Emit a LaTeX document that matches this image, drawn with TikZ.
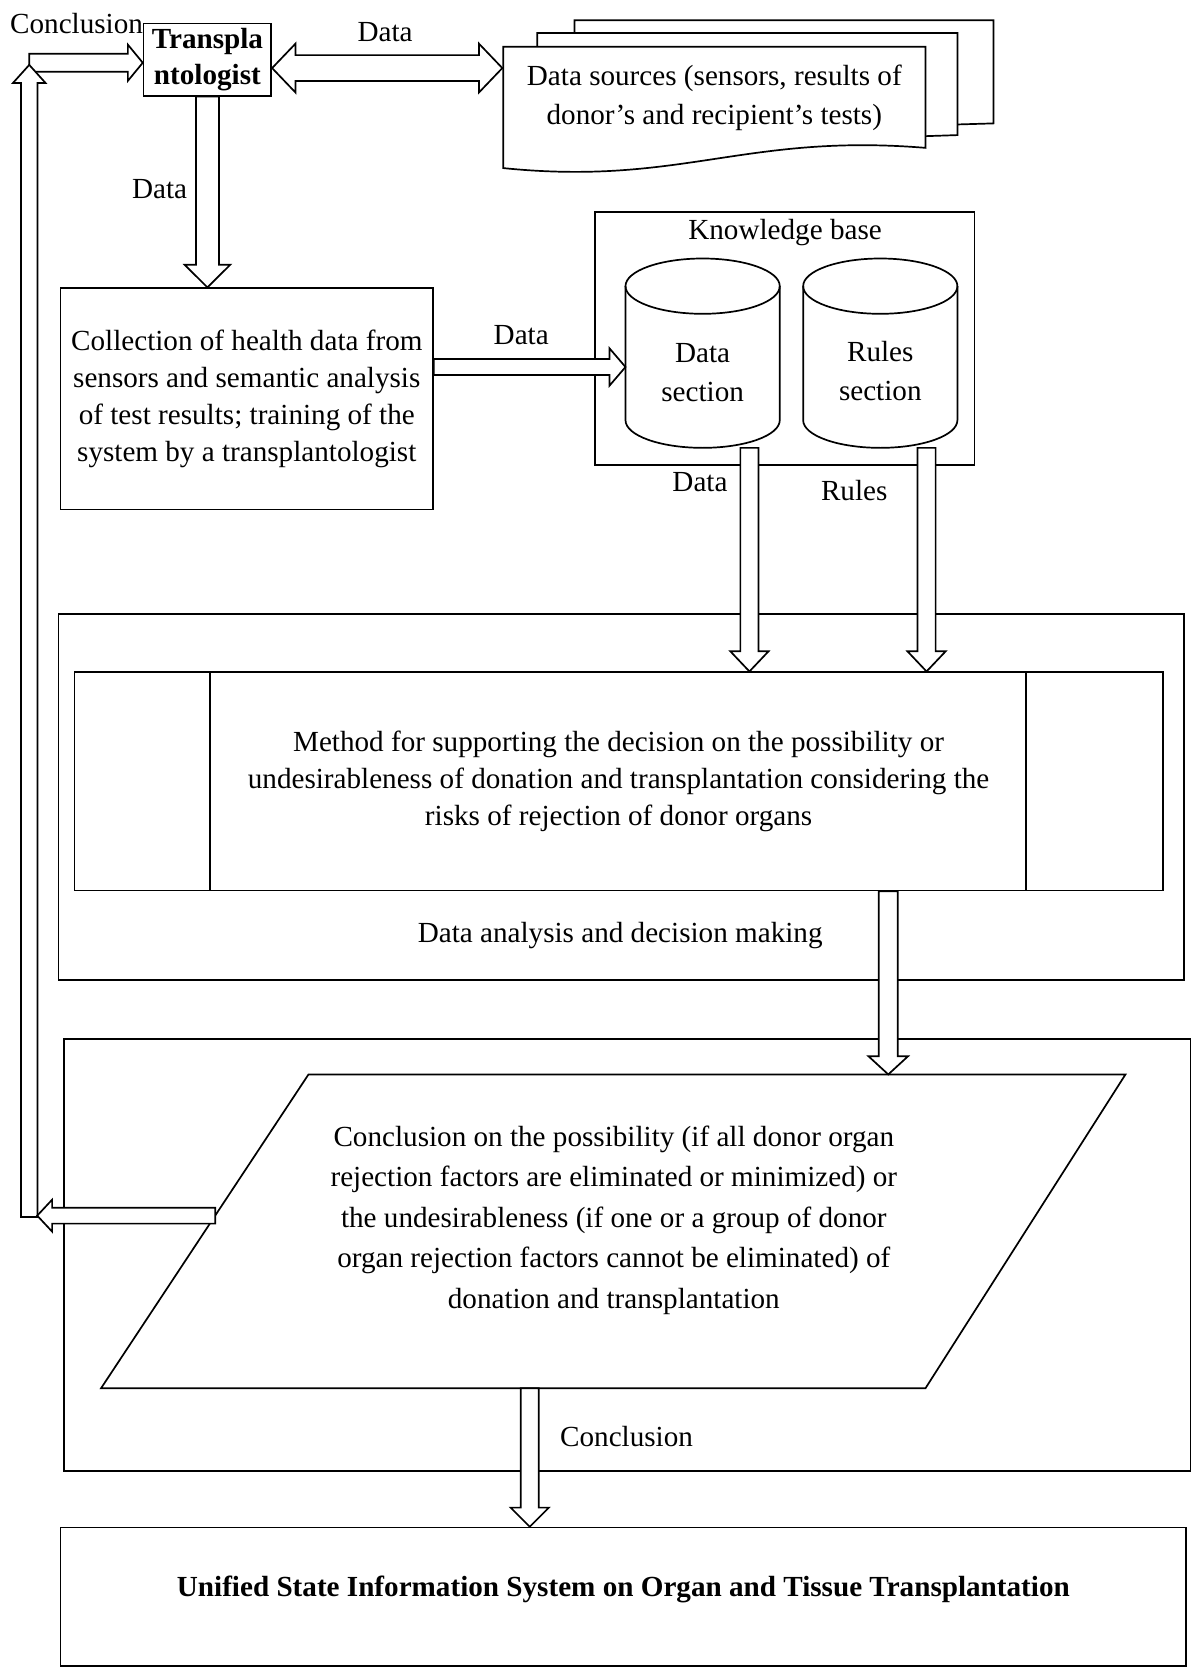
\documentclass[tikz,border=0pt]{standalone}
\usepackage{fontspec}
\setmainfont{Liberation Serif}
\usepackage{tikz}
\usetikzlibrary{calc}

\begin{document}
\begin{tikzpicture}[x=0.5pt, y=-0.5pt, line width=0.8pt,
  font=\fontsize{13.7}{17.5}\selectfont,
  box/.style={draw, fill=white, align=center, inner sep=2pt},
  lbl/.style={inner sep=1pt, align=center},
  blk/.style n args={3}{draw, fill=white, to path={
      ($(\tikztostart)!#1!90:(\tikztotarget)$)
      -- ($(\tikztotarget)!#3!(\tikztostart)!#1!-90:(\tikztostart)$)
      -- ($(\tikztotarget)!#3!(\tikztostart)!#2!-90:(\tikztostart)$)
      -- (\tikztotarget)
      -- ($(\tikztotarget)!#3!(\tikztostart)!#2!90:(\tikztostart)$)
      -- ($(\tikztotarget)!#3!(\tikztostart)!#1!90:(\tikztostart)$)
      -- ($(\tikztostart)!#1!-90:(\tikztotarget)$) -- cycle}},
  dblk/.style n args={3}{draw, fill=white, to path={
      ($(\tikztostart)!#3!(\tikztotarget)!#1!90:(\tikztotarget)$)
      -- ($(\tikztostart)!#3!(\tikztotarget)!#2!90:(\tikztotarget)$)
      -- (\tikztostart)
      -- ($(\tikztostart)!#3!(\tikztotarget)!#2!-90:(\tikztotarget)$)
      -- ($(\tikztostart)!#3!(\tikztotarget)!#1!-90:(\tikztotarget)$)
      -- ($(\tikztotarget)!#3!(\tikztostart)!#1!90:(\tikztostart)$)
      -- ($(\tikztotarget)!#3!(\tikztostart)!#2!90:(\tikztostart)$)
      -- (\tikztotarget)
      -- ($(\tikztotarget)!#3!(\tikztostart)!#2!-90:(\tikztostart)$)
      -- ($(\tikztotarget)!#3!(\tikztostart)!#1!-90:(\tikztostart)$) -- cycle}}
]
  \useasboundingbox (0,0) rectangle (1121,1568);

  % top row: transplantologist and data sources
  \node[box, font=\bfseries\fontsize{13.7}{16.5}\selectfont, minimum width=60pt, minimum height=34pt, inner sep=1pt] (trans) at (195,56) {Transpla\\ntologist};
  \draw[fill=white] (540,31) -- (540,19) -- (934,19) -- (934,116) -- (900,117);
  \draw[fill=white] (505,44) -- (505,31) -- (900,31) -- (900,127) -- (870,128);
  \draw[fill=white] (473,44) -- (870,44) -- (870,139) .. controls (700,125) and (640,175) .. (473,158) -- cycle;
  \node[lbl, font=\fontsize{13.7}{18.5}\selectfont, minimum width=198.5pt] (src) at (671.5,92) {Data sources (sensors, results of\\donor’s and recipient’s tests)};

  % collection and knowledge base
  \node[box, minimum width=175pt, minimum height=104pt] (coll) at (232,375) {Collection of health data from\\sensors and semantic analysis\\of test results; training of the\\system by a transplantologist};
  \node[box, minimum width=178.5pt, minimum height=119pt] (kb) at (737.5,318) {};
  \node[lbl] (kbl) at (738,219) {Knowledge base};
  \draw[fill=white] (588,269) -- (588,395) arc[start angle=180, end angle=360, x radius=36.25pt, y radius=13pt] -- (733,269);
  \draw (660.5,269) ellipse [x radius=36.25pt, y radius=13pt];
  \draw[fill=white] (755,269) -- (755,395) arc[start angle=180, end angle=360, x radius=36.25pt, y radius=13pt] -- (900,269);
  \draw (827.5,269) ellipse [x radius=36.25pt, y radius=13pt];
  \node[lbl, font=\fontsize{13.7}{18.5}\selectfont] (dsec) at (660.5,350) {Data\\section};
  \node[lbl, font=\fontsize{13.7}{18.5}\selectfont] (rsec) at (827.5,349) {Rules\\section};

  % data analysis
  \node[box, minimum width=529pt, minimum height=172pt] (ana) at (584,749) {};
  \node[box, minimum width=511.5pt, minimum height=102.5pt] (meth) at (581.5,734.5) {Method for supporting the decision on the possibility or\\undesirableness of donation and transplantation considering the\\risks of rejection of donor organs};
  \draw (meth.north west) ++(64pt,0) -- ++(0,-102.5pt);
  \draw (meth.north east) ++(-64.5pt,0) -- ++(0,-102.5pt);
  \node[lbl] (anal) at (583,879) {Data analysis and decision making};

  % conclusion
  \node[box, minimum width=529.5pt, minimum height=203pt] (concl) at (589.5,1180) {};
  \coordinate (pa) at (95,1305);
  \coordinate (pb) at (290,1010);
  \coordinate (pc) at (1058,1010);
  \coordinate (pd) at (870,1305);
  \draw[fill=white] (pa) -- (pb) -- (pc) -- (pd) -- cycle;
  \node[lbl, font=\fontsize{13.7}{19}\selectfont] (verd) at (577,1147) {Conclusion on the possibility (if all donor organ\\rejection factors are eliminated or minimized) or\\the undesirableness (if one or a group of donor\\organ rejection factors cannot be eliminated) of\\donation and transplantation};
  \node[lbl] (conl) at (589,1350) {Conclusion};

  % registry
  \node[box, font=\bfseries\fontsize{13.7}{17.5}\selectfont, minimum width=529pt, minimum height=65pt, text depth=10pt] (uis) at (586,1501) {Unified State Information System on Organ and Tissue Transplantation};

  % arrow labels
  \node[lbl] (l1) at (72,22) {Conclusion};
  \node[lbl] (l2) at (362,30) {Data};
  \node[lbl] (l3) at (150,178) {Data};
  \node[lbl] (l4) at (490,315) {Data};
  \node[lbl] (l5) at (658,453) {Data};
  \node[lbl] (l6) at (803,461) {Rules};

  % block arrows
  \coordinate (ctop) at (27.5,59);
  \coordinate (lbot) at (27.5,1144);
  \coordinate (ltop) at (27.5,61);
  \coordinate (dmid) at (0,64);
  \coordinate (cin) at (588,345);
  \coordinate (dout) at (704.5,421);
  \coordinate (rout) at (871,421);
  \coordinate (mout) at (835,0);
  \coordinate (vleft) at ($(pa)!0.55!(pb)$);
  \coordinate (lret) at (35,0);
  \coordinate (vout) at ($(pa)!0.52!(pd)$);
  \draw[blk={4.25pt}{8.5pt}{7pt}] (ctop) to (ctop -| trans.west);
  \draw[blk={3.9pt}{7.65pt}{8.5pt}] (lbot) to (ltop);
  \draw[dblk={6.1pt}{11.5pt}{11pt}] (trans.east |- dmid) to (src.west |- dmid);
  \draw[blk={5.4pt}{10.75pt}{10.7pt}] (trans.south) to (trans.south |- coll.north);
  \draw[blk={3.75pt}{8.75pt}{7.5pt}] (coll.east |- cin) to (cin);
  \draw[blk={4.25pt}{9pt}{9.5pt}] (dout) to (dout |- meth.north);
  \draw[blk={4.25pt}{9pt}{9.5pt}] (rout) to (rout |- meth.north);
  \draw[blk={4.5pt}{9.25pt}{8.5pt}] (mout |- meth.south) to (mout |- pb);
  \draw[blk={3.75pt}{7.5pt}{7pt}] (vleft) to (vleft -| lret);
  \draw[blk={4.25pt}{9pt}{9pt}] (vout) to (vout |- uis.north);
\end{tikzpicture}
\end{document}
